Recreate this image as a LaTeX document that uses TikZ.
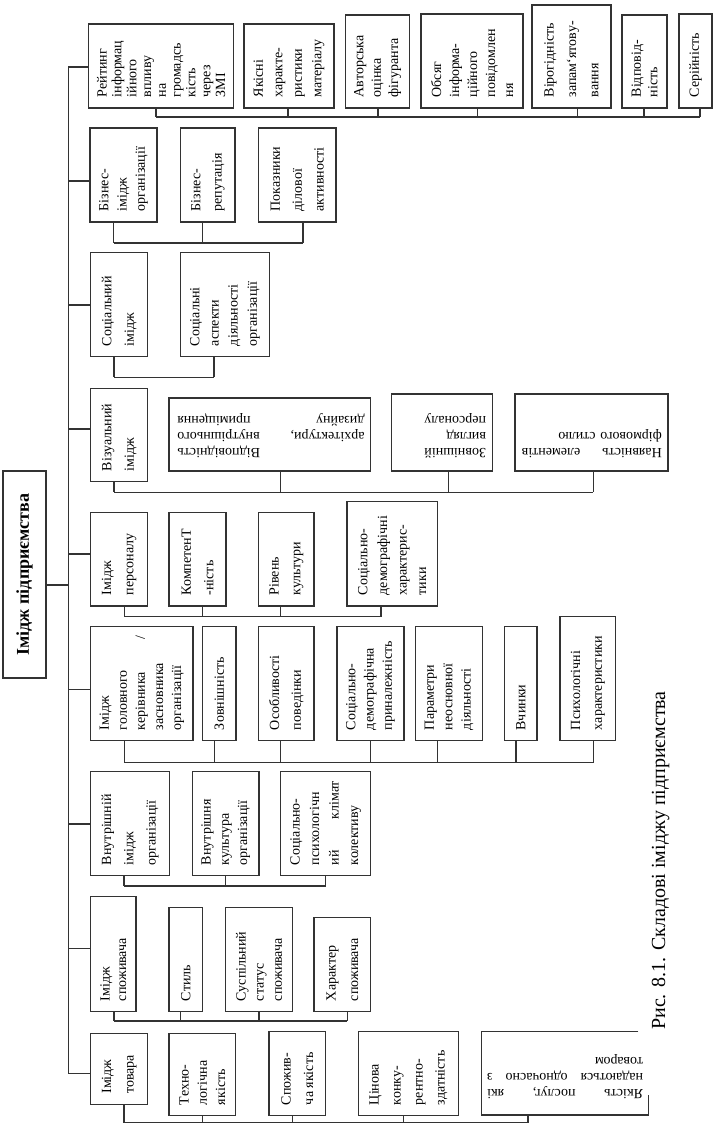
\documentclass[tikz,border=0pt]{standalone}
\usepackage{fontspec}
\setmainfont{Liberation Serif}
\usetikzlibrary{calc}
\definecolor{linec}{HTML}{333333}
\tikzset{
  box/.style={draw=linec, line width=1.1pt, inner sep=0pt, outer sep=0pt, rectangle},
  vt/.style={rotate=90, anchor=west, inner sep=0pt, align=left},
  rt/.style={rotate=180, anchor=north west, inner sep=0pt, align=left, font=\fontsize{14}{16}\selectfont},
  conn/.style={draw=linec, line width=1.1pt}
}
% vertical-text box: name, x1, y1, x2, y2, number of lines, text options, text
\newcommand\bx[8]{%
  \node[box, minimum width={#4-#2}, minimum height={#5-#3}] (#1) at ({(#2+#4)/2},{(#3+#5)/2}) {};
  \pgfmathsetmacro\bskip{max(14.5,min(24,(#4-#2-12)/#6))}%
  \node[vt, font=\fontsize{14}{\bskip}\selectfont, #7] (#1-t) at ($(#1.south)+(0,-10.5)$) {#8};}
% upside-down text box
\newcommand\bxr[7]{%
  \node[box, minimum width={#4-#2}, minimum height={#5-#3}] (#1) at ({(#2+#4)/2},{(#3+#5)/2}) {};
  \node[rt,#6] (#1-t) at ($(#1.south east)+(-6,-13)$) {#7};}
% connector from box bottom to bus
\newcommand\cn[3]{\coordinate (#1-c) at (#2,#3); \draw[conn] (#1-c |- #1.south) -- (#1-c);}
% spine link
\newcommand\spl[2]{\coordinate (#1-s) at (68.3,#2); \draw[conn] (#1-s) -- (#1-s -| #1.west);}
\begin{document}
\begin{tikzpicture}[x=1pt,y=-1pt]
\useasboundingbox (0,0) rectangle (718,1126);
\fill[white] (0,0) rectangle (718,1126);

% title
\node[box, minimum width=43, minimum height=207] (title) at (24.5,574.5) {};
\node[rotate=90, inner sep=0pt, font=\fontsize{18}{20}\selectfont\bfseries] (title-t) at (title.center) {Імідж підприємства};

% spine
\coordinate (spT) at (68.3,67);
\coordinate (spB) at (68.3,1073.3);
\draw[conn] (spT) -- (spB);
\coordinate (tj) at (68.3,585);
\draw[conn] (title.east |- tj) -- (tj);

% ---------- row 1
\bx{r1a}{88.5}{24}{233.8}{108}{9}{}{Рейтинг\\інформац\\ійного\\впливу\\на\\громадсь\\кість\\через\\ЗМІ}
\bx{r1b}{244}{24}{334}{108}{4}{}{Якісні\\характе-\\ристики\\матеріалу}
\bx{r1c}{345.6}{15}{409.7}{108}{3}{}{Авторська\\оцінка\\фігуранта}
\bx{r1d}{421}{14}{523}{108}{5}{}{Обсяг\\інформа-\\ційного\\повідомлен\\ня}
\bx{r1e}{532}{5}{611}{108}{3}{}{Вірогідність\\запам`ятову-\\вання}
\bx{r1f}{622}{15}{667}{108}{2}{}{Відповід-\\ність}
\bx{r1g}{679}{14}{712}{108}{1}{}{Серійність}
\cn{r1a}{156}{117}\cn{r1b}{288}{117}\cn{r1c}{378}{117}\cn{r1d}{477.5}{117}
\cn{r1e}{577.6}{117}\cn{r1f}{644}{117}\cn{r1g}{700}{117}
\draw[conn] (r1a-c) -- (r1g-c);
\spl{r1a}{67}

% ---------- row 2
\bx{r2a}{90}{128}{157}{222}{3}{}{Бізнес-\\імідж\\організації}
\bx{r2b}{180.6}{128}{235}{222}{2}{}{Бізнес-\\репутація}
\bx{r2c}{258.5}{128}{336}{222}{3}{}{Показники\\ділової\\активності}
\cn{r2a}{113.6}{243}\cn{r2b}{202.4}{243}\cn{r2c}{303}{243}
\draw[conn] (r2a-c) -- (r2c-c);
\spl{r2a}{181}

% ---------- row 3
\bx{r3a}{90.7}{252.7}{147.7}{356.7}{2}{}{Соціальний\\імідж}
\bx{r3b}{180.7}{252.7}{269.3}{356.7}{4}{}{Соціальні\\аспекти\\діяльності\\організації}
\cn{r3a}{114}{377.3}\cn{r3b}{214}{377.3}
\draw[conn] (r3a-c) -- (r3b-c);
\spl{r3a}{305}

% ---------- row 4
\bx{r4a}{90.7}{388.7}{147.7}{481.7}{2}{}{Візуальний\\імідж}
\bxr{r4b}{169}{398}{370.7}{471}{text width=187}{\hspace*{\fill}Відповідність\hspace*{\fill}\\архітектури,\hfill внутрішнього\\дизайну\hfill приміщення}
\bxr{r4c}{391.7}{394}{492.3}{471}{}{Зовнішній\\вигляд\\персоналу}
\bxr{r4d}{515}{394}{668}{471}{text width=140}{Наявність\hfill елементів\\фірмового стилю}
\cn{r4a}{114}{492.3}\cn{r4b}{280.7}{492.3}\cn{r4c}{448.3}{492.3}\cn{r4d}{593.3}{492.3}
\draw[conn] (r4a-c) -- (r4d-c);
\spl{r4a}{429}

% ---------- row 5
\bx{r5a}{90.7}{512.7}{147.4}{606}{2}{}{Імідж\\персоналу}
\bx{r5b}{169}{512.7}{226}{606}{2}{}{КомпетенТ\\-ність}
\bx{r5c}{258.5}{512.7}{314}{606}{2}{}{Рівень\\культури}
\bx{r5d}{347}{501.7}{437.4}{606}{4}{}{Соціально-\\демографічні\\характерис-\\тики}
\cn{r5a}{124.4}{616.7}\cn{r5b}{202.5}{616.7}\cn{r5c}{280.7}{616.7}\cn{r5d}{381}{616.7}
\draw[conn] (r5a-c) -- (r5d-c);
\spl{r5a}{554}

% ---------- row 6
\bx{r6a}{90.7}{626.7}{193}{740.7}{5}{text width=94}{Імідж\\головного\\керівника\hfill /\\засновника\\організації}
\bx{r6b}{202.5}{626.7}{236}{740.7}{1}{}{Зовнішність}
\bx{r6c}{258.5}{626.7}{314}{740.7}{2}{}{Особливості\\поведінки}
\bx{r6d}{337}{626.7}{404}{740.7}{3}{}{Соціально-\\демографічна\\приналежність}
\bx{r6e}{415.5}{626.7}{482.6}{740.7}{3}{}{Параметри\\неосновної\\діяльності}
\bx{r6f}{504.4}{626.7}{537}{740.7}{1}{}{Вчинки}
\bx{r6g}{560}{616.7}{615.6}{740.7}{2}{}{Психологічні\\характеристики}
\cn{r6a}{124.4}{762.7}\cn{r6b}{214.4}{762.7}\cn{r6c}{280.7}{762.7}\cn{r6d}{370.3}{762.7}
\cn{r6e}{437.4}{762.7}\cn{r6f}{516}{762.7}\cn{r6g}{593.7}{762.7}
\draw[conn] (r6a-c) -- (r6g-c);
\spl{r6a}{689.3}

% ---------- row 7
\bx{r7a}{90.7}{771.7}{169.3}{875.7}{3}{}{Внутрішній\\імідж\\організації}
\bx{r7b}{192.3}{771.7}{259}{875.7}{3}{}{Внутрішня\\культура\\організації}
\bx{r7c}{280.7}{771.7}{370.7}{875.7}{4}{text width=84}{Соціально-\\психологічн\\ий\hfill клімат\\колективу}
\cn{r7a}{124}{886}\cn{r7b}{225.7}{886}\cn{r7c}{325.7}{886}
\draw[conn] (r7a-c) -- (r7c-c);
\spl{r7a}{824}

% ---------- row 8
\bx{r8a}{90.7}{896.7}{136}{1011.7}{2}{}{Імідж\\споживача}
\bx{r8b}{169}{907.7}{202.7}{1011.7}{1}{}{Стиль}
\bx{r8c}{225.7}{907.7}{292.3}{1011.7}{3}{}{Суспільний\\статус\\споживача}
\bx{r8d}{314}{917.3}{370.7}{1011.7}{2}{}{Характер\\споживача}
\cn{r8a}{114}{1021}\cn{r8b}{180.7}{1021}\cn{r8c}{259}{1021}\cn{r8d}{347.3}{1021}
\draw[conn] (r8a-c) -- (r8d-c);
\spl{r8a}{948.3}

% ---------- row 9
\bx{r9a}{90.7}{1033.3}{147.7}{1104.3}{2}{}{Імідж\\товара}
\bx{r9b}{169}{1033.3}{235.7}{1115.7}{3}{}{Техно-\\логічна\\якість}
\bx{r9c}{269}{1031.7}{325.7}{1115.7}{2}{}{Спожив-\\ча якість}
\bx{r9d}{358.3}{1031.7}{458.3}{1115.7}{4}{}{Цінова\\конку-\\рентно-\\здатність}
\node[inner sep=0pt, outer sep=0pt, minimum width=166.6, minimum height=83.3] (r9e) at (565,1073.35) {};
\draw[conn] ([xshift=-10pt]r9e.north east) -- (r9e.north west) -- (r9e.south west) -- (r9e.south east) -- ([yshift=20pt]r9e.south east);
\node[rt, text width=156] (r9e-t) at ($(r9e.south east)+(-5,-16)$) {Якість\hfill послуг,\hfill які\\надаються\hfill одночасно\hfill з\\товаром};
\cn{r9a}{124}{1122.5}\cn{r9b}{202.3}{1122.5}\cn{r9c}{292.3}{1122.5}\cn{r9d}{403.3}{1122.5}\cn{r9e}{528}{1122.5}
\draw[conn] (r9a-c) -- (r9e-c);
\spl{r9a}{1073.3}

% caption
\node[rotate=90, anchor=base west, inner sep=0pt, font=\fontsize{20}{24}\selectfont] (cap) at (665,1030) {Рис. 8.1. Складові іміджу підприємства};
\end{tikzpicture}
\end{document}
